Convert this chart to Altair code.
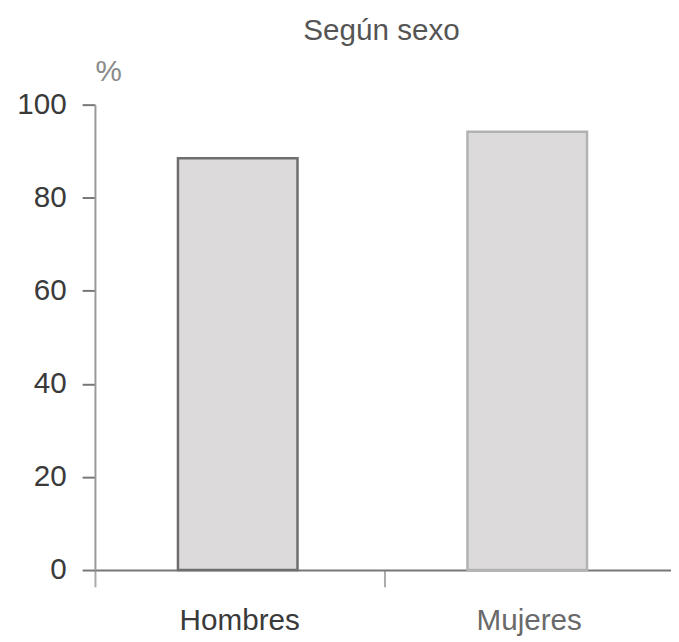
import altair as alt
import pandas as pd

categories = ["Hombres", "Mujeres"]
values = [88.5, 94.2]
strokes = ["#6e6e6e", "#b2b2b2"]

df = pd.DataFrame({"sexo": categories, "pct": values, "borde": strokes})

FONT = "Liberation Sans, Arial, sans-serif"

chart = alt.Chart(df).mark_bar(
    size=121, fill="#dcdadb", strokeWidth=2.5, xOffset=-2
).encode(
    x=alt.X(
        "sexo:N",
        sort=categories,
        scale=alt.Scale(paddingInner=0, paddingOuter=0, range=[0, 586]),
        axis=alt.Axis(
            title=None, labelAngle=0, bandPosition=0, tickSize=17,
            labelPadding=19, labelFontSize=30, labelFont=FONT,
            labelColor={"expr": "datum.value == 'Mujeres' ? '#6a6a6a' : '#3a3a3a'"},
            domainColor="#777777", tickColor="#aaaaaa", domainWidth=2, tickWidth=2,
        ),
    ),
    y=alt.Y(
        "pct:Q",
        scale=alt.Scale(domain=[0, 100], nice=False),
        axis=alt.Axis(
            values=[0, 20, 40, 60, 80, 100], grid=False, tickSize=13,
            labelPadding=16, labelFontSize=30, labelFont=FONT, labelColor="#3a3a3a",
            domainColor="#999999", tickColor="#777777", domainWidth=2, tickWidth=2,
            title="%", titleAngle=0, titleX=0, titleY=-18, titleAlign="left",
            titleBaseline="bottom", titleFontSize=30, titleFont=FONT,
            titleColor="#8a8a8a", titleFontWeight="normal",
        ),
    ),
    stroke=alt.Stroke("borde:N", scale=None),
).properties(
    width=580,
    height=471,
    title=alt.TitleParams(
        "Según sexo", fontSize=30, font=FONT, fontWeight="normal",
        color="#555555", anchor="middle", offset=11,
    ),
    autosize=alt.AutoSizeParams(type="none"),
    padding={"left": 88, "top": 94, "right": 3, "bottom": 68},
).configure_view(stroke=None)

chart.save("out.html", embed_options={"renderer": "svg", "actions": False})
